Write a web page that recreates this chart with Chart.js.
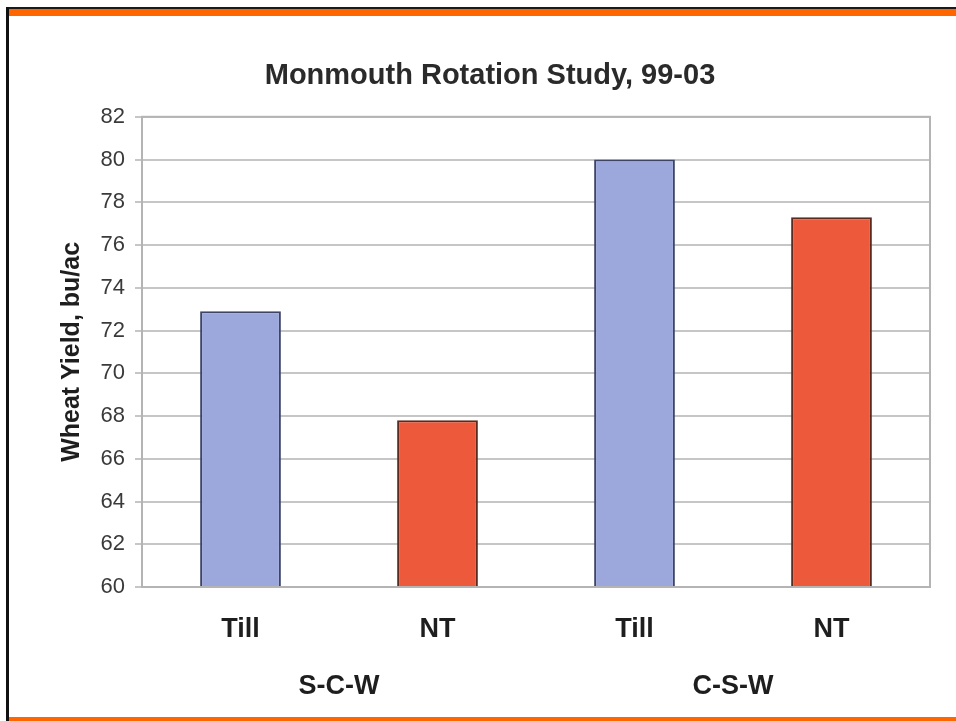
<!DOCTYPE html>
<html>
<head>
<meta charset="utf-8">
<title>Monmouth Rotation Study</title>
<script src="https://cdn.jsdelivr.net/npm/chart.js@4.4.1/dist/chart.umd.min.js"></script>
<style>
    html, body { margin: 0; padding: 0; background: #fff; }
    .wrap { position: relative; width: 956px; height: 721px; overflow: hidden; }
    #yieldChart { position: absolute; left: 0; top: 0; }
    .edge { position: absolute; }
    .edge-top-dark { left: 6px; top: 7px; width: 950px; height: 2px; background: #1a1a1a; }
    .edge-top { left: 9px; top: 9px; width: 947px; height: 7px; background: #ff6600; }
    .edge-left { left: 6px; top: 7px; width: 3px; height: 714px; background: #111; }
    .edge-bottom { left: 9px; top: 717px; width: 947px; height: 4px; background: #ff6600; }
</style>
</head>
<body>
<div class="wrap">
    <canvas id="yieldChart" width="956" height="721"></canvas>
    <div class="edge edge-top-dark"></div>
    <div class="edge edge-top"></div>
    <div class="edge edge-left"></div>
    <div class="edge edge-bottom"></div>
</div>
<script>
// Chart data
const tillage = ['Till', 'NT', 'Till', 'NT'];
const rotations = ['S-C-W', 'C-S-W'];
const wheatYield = [72.9, 67.8, 80.0, 77.3];
const barColors = ['#9ca7dc', '#ec5a3b', '#9ca7dc', '#ec5a3b'];
const barBorders = ['#3d4466', '#5b2b1f', '#3d4466', '#5b2b1f'];

const FONT = 'Arial, "Liberation Sans", sans-serif';

// gray box around the plot area
const plotFrame = {
    id: 'plotFrame',
    afterDraw(chart) {
        const { ctx, chartArea: a } = chart;
        ctx.save();
        ctx.strokeStyle = '#b4b4b4';
        ctx.lineWidth = 2;
        ctx.strokeRect(a.left, a.top, a.right - a.left, a.bottom - a.top);
        ctx.restore();
    }
};

document.addEventListener('DOMContentLoaded', () => {
    const el = document.getElementById('yieldChart');

    new Chart(el, {
        type: 'bar',
        data: {
            labels: tillage,
            datasets: [{
                label: 'Wheat Yield',
                data: wheatYield,
                backgroundColor: barColors,
                borderColor: barBorders,
                borderWidth: 2,
                borderSkipped: false,
                categoryPercentage: 1,
                barPercentage: 0.41
            }]
        },
        options: {
            responsive: false,
            animation: false,
            layout: { padding: { left: 50, right: 26, top: 40, bottom: 14 } },
            plugins: {
                legend: { display: false },
                tooltip: { enabled: false },
                title: {
                    display: true,
                    text: 'Monmouth Rotation Study, 99-03',
                    color: '#2a2a2a',
                    font: { family: FONT, size: 29, weight: 'bold' },
                    padding: { top: 19, bottom: 23 }
                }
            },
            scales: {
                x: {
                    weight: 0,
                    grid: { display: false },
                    border: { display: false },
                    ticks: {
                        color: '#1e1e1e',
                        padding: 18,
                        font: { family: FONT, size: 27, weight: 'bold' }
                    },
                    afterFit(scale) { scale.height = 70; }
                },
                x2: {
                    type: 'category',
                    position: 'bottom',
                    weight: 1,
                    labels: rotations,
                    offset: true,
                    grid: { display: false },
                    border: { display: false },
                    ticks: {
                        color: '#1e1e1e',
                        padding: 5,
                        font: { family: FONT, size: 27, weight: 'bold' }
                    },
                    afterFit(scale) { scale.height = 50; }
                },
                y: {
                    min: 60,
                    max: 82,
                    ticks: {
                        stepSize: 2,
                        color: '#3a3a3a',
                        padding: 10,
                        font: { family: FONT, size: 22 }
                    },
                    grid: {
                        color: '#c6c6c6',
                        lineWidth: 2,
                        tickLength: 7
                    },
                    border: { display: false },
                    title: {
                        display: true,
                        text: 'Wheat Yield, bu/ac',
                        color: '#1e1e1e',
                        font: { family: FONT, size: 25, weight: 'bold' },
                        padding: { top: 7, bottom: 0 }
                    },
                    afterFit(scale) { scale.width = 92; }
                }
            }
        },
        plugins: [plotFrame]
    });
});
</script>
</body>
</html>
